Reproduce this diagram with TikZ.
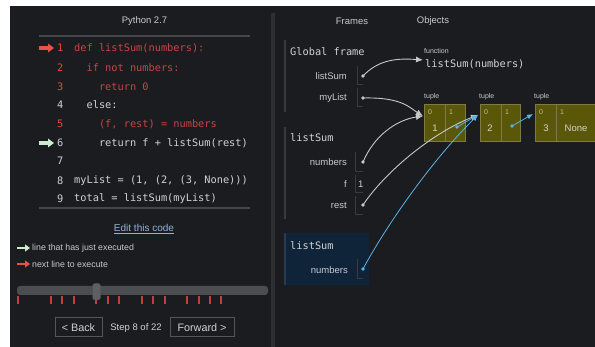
\documentclass[tikz,border=0pt]{standalone}
\usepackage{fontspec}
\setmainfont{Liberation Sans}
\newfontfamily\codefont{DejaVu Sans Mono}
\usetikzlibrary{arrows.meta,calc}
\definecolor{bg}{HTML}{1B1C20}
\definecolor{divc}{HTML}{2E2F33}
\definecolor{rulec}{HTML}{46474B}
\definecolor{codegray}{HTML}{D2D2D2}
\definecolor{codered}{HTML}{C94444}
\definecolor{numred}{HTML}{E8473F}
\definecolor{lblgray}{HTML}{C8CAD0}
\definecolor{arrowred}{HTML}{E8524A}
\definecolor{arrowgreen}{HTML}{CDEBD0}
\definecolor{linkblue}{HTML}{8FB4E3}
\definecolor{slider}{HTML}{4C4D50}
\definecolor{handle}{HTML}{5E5F62}
\definecolor{tickred}{HTML}{C2403A}
\definecolor{btnborder}{HTML}{55565A}
\definecolor{framebar}{HTML}{3A3B3F}
\definecolor{hlframe}{HTML}{0F2339}
\definecolor{hlbar}{HTML}{2A3A52}
\definecolor{olive}{RGB}{90,88,8}
\definecolor{oliveb}{RGB}{125,124,70}
\definecolor{idxc}{RGB}{190,188,140}
\definecolor{ptrgray}{HTML}{C8C8C8}
\definecolor{ptrblue}{HTML}{5AB4E6}
\begin{document}
\begin{tikzpicture}[x=1pt,y=-1pt,
  code/.style={anchor=west,inner sep=0pt,font=\codefont\fontsize{10.3}{12}\selectfont,text=codegray},
  redcode/.style={code,text=codered},
  lnum/.style={anchor=east,inner sep=0pt,font=\codefont\fontsize{10.3}{12}\selectfont,text=codegray},
  rednum/.style={lnum,text=numred},
  ui/.style={inner sep=0pt,font=\fontsize{9.5}{11}\selectfont,text=lblgray},
  legend/.style={anchor=west,inner sep=0pt,font=\fontsize{8.8}{10}\selectfont,text=lblgray},
  varlbl/.style={anchor=east,inner sep=0pt,font=\fontsize{9.5}{11}\selectfont,text=lblgray},
  framelbl/.style={anchor=west,inner sep=0pt,font=\codefont\fontsize{10.3}{12}\selectfont,text=codegray},
  tiny/.style={anchor=west,inner sep=0pt,font=\fontsize{7}{8}\selectfont,text=lblgray},
  idx/.style={anchor=west,inner sep=0pt,font=\fontsize{7}{8}\selectfont,text=idxc},
  val/.style={inner sep=0pt,font=\fontsize{9.5}{11}\selectfont,text=codegray},
  fatarrow/.style={line width=3.2pt,-{Triangle[length=6pt,width=8.5pt]}},
  vbox/.style={draw=framebar,line width=1pt},
  cell/.style={draw=oliveb,fill=olive,line width=0.8pt,anchor=north west,minimum height=37pt,inner sep=0pt},
  gdot/.style={circle,fill=ptrgray,inner sep=0pt,minimum size=3.6pt},
  bdot/.style={circle,fill=ptrblue,inner sep=0pt,minimum size=3.6pt},
  gptr/.style={draw=ptrgray,line width=0.9pt,-{Latex[length=7pt,width=6pt]}},
  bptr/.style={draw=ptrblue,line width=0.8pt,-{Latex[length=6pt,width=5pt]}},
  btn/.style={draw=btnborder,line width=1pt,fill=bg,inner sep=0pt,minimum height=19pt,font=\fontsize{10.8}{12}\selectfont,text=codegray}
]
\useasboundingbox (0,0) rectangle (595,347);
\fill[white] (0,0) rectangle (595,347);
\fill[bg] (10,6) rectangle (595,347);
\fill[divc] (271,13) rectangle (275,347);

% ---------- left panel ----------
\node[ui] (pyver) at (144.5,21) {Python 2.7};
\draw[rulec,line width=1.3pt] (39,36) -- (250,36);

\draw[fatarrow,arrowred] (39,48) -- (54,48);
\draw[fatarrow,arrowgreen] (39,143) -- (54,143);

\node[rednum] (n1) at (63.5,48) {1};
\node[rednum] (n2) at (63.5,68) {2};
\node[rednum] (n3) at (63.5,87) {3};
\node[lnum]   (n4) at (63.5,105) {4};
\node[rednum] (n5) at (63.5,124) {5};
\node[lnum]   (n6) at (63.5,143) {6};
\node[lnum]   (n7) at (63.5,161) {7};
\node[lnum]   (n8) at (63.5,181) {8};
\node[lnum]   (n9) at (63.5,199) {9};

\node[redcode] (c1) at (74,48) {def listSum(numbers):};
\node[redcode] (c2) at (86.4,68) {if not numbers:};
\node[redcode] (c3) at (98.8,87) {return 0};
\node[code]    (c4) at (86.4,105) {else:};
\node[redcode] (c5) at (98.8,124) {(f, rest) = numbers};
\node[code]    (c6) at (98.8,143) {return f + listSum(rest)};
\node[code]    (c8) at (74,181) {myList = (1, (2, (3, None)))};
\node[code]    (c9) at (74,199) {total = listSum(myList)};

\draw[rulec,line width=1.3pt] (39,208) -- (250,208);

\node[ui,text=linkblue,font=\fontsize{10}{12}\selectfont] (edit) at (144,228) {Edit this code};
\draw[linkblue,line width=0.6pt] ($(edit.south west)+(0,1.2)$) -- ($(edit.south east)+(0,1.2)$);

\draw[fatarrow,arrowgreen,line width=2.6pt,-{Triangle[length=5pt,width=7pt]}] (17,248) -- (30,248);
\node[legend] (leg1) at (32,248) {line that has just executed};
\draw[fatarrow,arrowred,line width=2.6pt,-{Triangle[length=5pt,width=7pt]}] (17,264) -- (30,264);
\node[legend] (leg2) at (32,264) {next line to execute};

\fill[slider,rounded corners=3pt] (17,286) rectangle (268,295);
\foreach \tx in {18,51,62,74,96,108,119,142,153,165,187,199,210,221}
  \draw[tickred,line width=1.2pt] (\tx,296) -- (\tx,304);
\fill[handle,rounded corners=2.5pt,draw=slider] (92.5,283.5) rectangle (100.5,300);

\node[btn,minimum width=47pt] (back) at (78.5,327.5) {< Back};
\node[ui,text=codegray] (step) at (136,328) {Step 8 of 22};
\node[btn,minimum width=64pt] (fwd) at (202,327.5) {Forward >};

% ---------- right panel ----------
\node[ui] (frames) at (352,21) {Frames};
\node[ui] (objects) at (433,21) {Objects};

% global frame
\draw[framebar,line width=1.5pt] (285,40) -- (285,112);
\node[framelbl] (gf) at (290,52) {Global frame};
\node[varlbl] (vls) at (347,76) {listSum};
\draw[vbox] (357,66) -- (357,85) -- (363,85);
\node[gdot] (dls) at (363,76) {};
\node[varlbl] (vml) at (347,98) {myList};
\draw[vbox] (357,88) -- (357,107) -- (363,107);
\node[gdot] (dml) at (363,98) {};

% frame listSum 1
\draw[framebar,line width=1.5pt] (285,127) -- (285,219);
\node[framelbl] (f1) at (290,138) {listSum};
\node[varlbl] (vn1) at (347,162) {numbers};
\draw[vbox] (355,152) -- (355,172) -- (363,172);
\node[gdot] (dn1) at (363,162) {};
\node[varlbl] (vf) at (347,184) {f};
\draw[vbox] (355,175) -- (355,193) -- (363,193);
\node[val,anchor=west] (fval) at (358,184) {1};
\node[varlbl] (vr) at (347,205) {rest};
\draw[vbox] (355,196) -- (355,215) -- (363,215);
\node[gdot] (dr) at (363,205) {};

% frame listSum 2 (highlighted)
\fill[hlframe] (284,233) rectangle (369,285);
\draw[hlbar,line width=1.5pt] (285,233) -- (285,285);
\node[framelbl] (f2) at (290,246) {listSum};
\node[varlbl] (vn2) at (348,270) {numbers};
\draw[vbox] (357,259) -- (357,279) -- (363,279);
\node[bdot] (dn2) at (363,269) {};

% objects
\node[tiny] (fnlbl) at (424,51) {function};
\node[code] (fn) at (425,64) {listSum(numbers)};
\coordinate (fnin) at (423,60);

\node[tiny] (tl1) at (424,97) {tuple};
\node[tiny] (tl2) at (479,97) {tuple};
\node[tiny] (tl3) at (534,97) {tuple};

\node[cell,minimum width=21pt] (t1a) at (424,104) {};
\node[cell,minimum width=20pt] (t1b) at (445,104) {};
\node[cell,minimum width=21pt] (t2a) at (480,104) {};
\node[cell,minimum width=19pt] (t2b) at (501,104) {};
\node[cell,minimum width=21pt] (t3a) at (535,104) {};
\node[cell,minimum width=42pt] (t3b) at (556,104) {};

\node[idx] (i10) at (428,112) {0};
\node[idx] (i11) at (449,112) {1};
\node[idx] (i20) at (484,112) {0};
\node[idx] (i21) at (505,112) {1};
\node[idx] (i30) at (539,112) {0};
\node[idx] (i31) at (560,112) {1};

\node[val] (v1) at (435,128) {1};
\node[bdot] (d1) at (457,127) {};
\node[val] (v2) at (490,128) {2};
\node[bdot] (d2) at (512,126) {};
\node[val] (v3) at (546,128) {3};
\node[val] (v4) at (576,128) {None};

\coordinate (t1in) at (423,116);
\coordinate (t2in) at (478,115);
\coordinate (t3in) at (533,114);

% pointers
\draw[gptr] (dls.center) .. controls (378,60) and (396,58) .. (fnin);
\draw[gptr] (dml.center) .. controls (402,97) and (410,108) .. (t1in);
\draw[gptr] (dn1.center) .. controls (374,136) and (396,120) .. (t1in);
\draw[gptr] (dr.center) .. controls (385,172) and (432,133) .. (t2in);
\draw[bptr] (d1.center) -- (t2in);
\draw[bptr] (dn2.center) .. controls (386,226) and (432,160) .. (t2in);
\draw[bptr] (d2.center) -- (t3in);
\end{tikzpicture}
\end{document}
